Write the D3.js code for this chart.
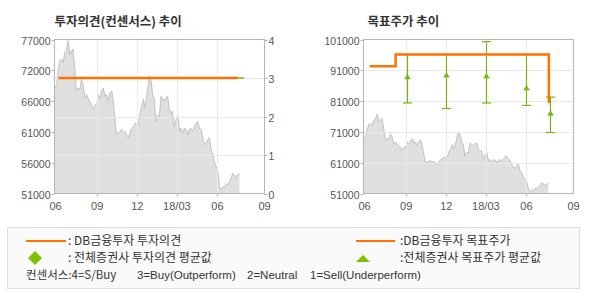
<!DOCTYPE html>
<html>
<head>
<meta charset="utf-8">
<script src="https://cdn.jsdelivr.net/npm/d3@7"></script>
<style>
body { margin: 0; background: #fff; }
text { font-family: "Liberation Sans", Arial, sans-serif; }
.kr { font-family: "Noto Sans CJK KR", "Noto Sans", sans-serif; }
</style>
</head>
<body>
<div id="chart"></div>
<script>
// stock price (same series in both panels)
var priceDates = [
  "2017-05-27","2017-06-01","2017-06-04","2017-06-08","2017-06-12","2017-06-16","2017-06-19","2017-06-23",
  "2017-06-27","2017-07-01","2017-07-05","2017-07-08","2017-07-12","2017-07-16","2017-07-20","2017-07-24",
  "2017-07-27","2017-07-31","2017-08-04","2017-08-08","2017-08-12","2017-08-15","2017-08-19","2017-08-23",
  "2017-08-27","2017-08-31","2017-09-03","2017-09-07","2017-09-11","2017-09-15","2017-09-18","2017-09-22",
  "2017-09-26","2017-09-30","2017-10-04","2017-10-07","2017-10-11","2017-10-15","2017-10-19","2017-10-23",
  "2017-10-26","2017-10-30","2017-11-03","2017-11-07","2017-11-11","2017-11-14","2017-11-18","2017-11-22",
  "2017-11-26","2017-11-30","2017-12-03","2017-12-07","2017-12-11","2017-12-15","2017-12-18","2017-12-22",
  "2017-12-26","2017-12-28","2018-01-01","2018-01-05","2018-01-09","2018-01-12","2018-01-16","2018-01-20",
  "2018-01-24","2018-01-28","2018-01-31","2018-02-04","2018-02-08","2018-02-12","2018-02-16","2018-02-19",
  "2018-02-23","2018-02-27","2018-03-03","2018-03-07","2018-03-10","2018-03-14","2018-03-18","2018-03-22",
  "2018-03-26","2018-03-29","2018-04-02","2018-04-06","2018-04-10","2018-04-14","2018-04-17","2018-04-21",
  "2018-04-25","2018-04-29","2018-05-03","2018-05-06","2018-05-10","2018-05-14","2018-05-18","2018-05-21",
  "2018-05-25","2018-05-29","2018-06-02","2018-06-06","2018-06-09","2018-06-13","2018-06-17","2018-06-21",
  "2018-06-25","2018-06-28","2018-07-02","2018-07-06","2018-07-10","2018-07-14","2018-07-17","2018-07-21"
];
var prices = [
  68800,69400,71700,73400,73700,73100,74800,75100,
  76800,74500,75100,75400,72000,68300,68800,68600,
  70300,69400,67100,67700,66900,66600,66000,65200,
  66000,66000,67700,66900,68300,68800,67400,67700,
  66600,68000,68300,66900,63700,60900,61200,61500,
  61800,61200,61500,60900,60400,61200,62000,62300,
  62900,62600,62500,64300,65700,66900,65400,67100,
  69400,70900,70300,67700,66900,63200,64300,64000,
  67400,66900,66600,67100,67400,65200,64600,64900,
  62300,63500,64300,61500,62000,61200,62000,61800,
  60900,61800,62000,61500,62300,62900,63200,62000,
  61800,60400,59200,59500,60100,60400,58400,57800,
  56400,55500,55000,52100,51600,52100,51900,52700,
  52400,53000,53600,54400,54100,53600,54100,54400
];

// DB금융투자 opinion and the all-broker average (left panel)
var opinionDates = ["2017-06-05", "2018-07-18"];
var opinionValues = [3, 3];
var avgOpinionDates = ["2017-06-05", "2018-08-01"];
var avgOpinionValues = [3, 3];

// DB금융투자 target price (right panel)
var targetDates = ["2017-06-10", "2017-08-08", "2018-07-22"];
var targetValues = [92300, 96100, 80400];

// all-broker target price: high / average / low
var consDates = ["2017-09-03", "2017-12-01", "2018-03-01", "2018-06-01", "2018-07-24"];
var consHigh = [96100, 96100, 100300, 96100, 82300];
var consAvg = [88300, 88900, 88600, 84700, 76500];
var consLow = [80400, 78600, 80400, 79600, 70800];

// axis labels
var xTickDates = ["2017-05-27", "2017-09-01", "2017-12-01", "2018-03-01", "2018-06-01", "2018-09-16"];
var xTickLabels = ["06", "09", "12", "18/03", "06", "09"];
var leftPriceLabels = ["51000", "56000", "61000", "66000", "72000", "77000"];
var opinionTicks = [0, 1, 2, 3, 4];
var rightPriceTicks = [51000, 61000, 71000, 81000, 91000, 101000];

function init() {
    var w = 590, h = 300;
    var top = 39.5, bottom = 193.5, pw = 210;
    var orange = "#ff7200", green = "#78b414";
    var parse = d3.timeParse("%Y-%m-%d");

    var svg = d3.select("#chart").append("svg")
                .attr("width", w)
                .attr("height", h);

    var priceData = priceDates.map(function(d, i) { return {date: parse(d), value: prices[i]}; });

    function panel(x0, yPrice, title) {
        var x = d3.scaleTime()
                  .domain([parse(xTickDates[0]), parse(xTickDates[xTickDates.length - 1])])
                  .range([x0, x0 + pw]);
        var g = svg.append("g");

        g.append("text").attr("class", "kr")
         .attr("x", x0 + (title.length > 8 ? 0 : 4)).attr("y", 26)
         .attr("font-size", 12.5).attr("font-weight", "bold").attr("fill", "#333")
         .text(title);

        // price area
        g.append("path").datum(priceData)
         .attr("fill", "#dfdfdf")
         .attr("d", d3.area().x(function(d) { return x(d.date); }).y0(bottom).y1(function(d) { return yPrice(d.value); }));
        g.append("path").datum(priceData)
         .attr("fill", "none").attr("stroke", "#c2c2c2").attr("stroke-width", 1)
         .attr("d", d3.line().x(function(d) { return x(d.date); }).y(function(d) { return yPrice(d.value); }));

        // vertical grid
        xTickDates.slice(1, -1).forEach(function(d) {
            var px = Math.round(x(parse(d))) + 0.5;
            g.append("line").attr("x1", px).attr("x2", px).attr("y1", top).attr("y2", bottom)
             .attr("stroke", "#e9e9e9");
            g.append("line").attr("x1", px).attr("x2", px).attr("y1", bottom).attr("y2", bottom + 3)
             .attr("stroke", "#b5b5b5");
        });

        xTickDates.forEach(function(d, i) {
            g.append("text").attr("x", x(parse(d)) + (i == 0 ? 1 : 0)).attr("y", 210)
             .attr("text-anchor", "middle").attr("font-size", 11).attr("fill", "#555")
             .text(xTickLabels[i]);
        });

        return {g: g, x: x};
    }

    function hgrid(g, x0, ys) {
        ys.forEach(function(y) {
            var py = Math.round(y) + 0.5;
            g.append("line").attr("x1", x0).attr("x2", x0 + pw).attr("y1", py).attr("y2", py)
             .attr("stroke", "#e9e9e9");
        });
    }

    function frame(g, x0) {
        g.append("rect").attr("x", x0).attr("y", top).attr("width", pw).attr("height", bottom - top)
         .attr("fill", "none").attr("stroke", "#b5b5b5");
    }

    function yLabels(g, px, ys, labels, anchor) {
        ys.forEach(function(y, i) {
            var py = Math.round(y) + 0.5;
            var dx = anchor == "end" ? -3 : 3;
            g.append("line").attr("x1", px).attr("x2", px + dx).attr("y1", py).attr("y2", py)
             .attr("stroke", "#b5b5b5");
            g.append("text").attr("x", px + (anchor == "end" ? -4 : 4)).attr("y", py + 4)
             .attr("text-anchor", anchor).attr("font-size", 10.5).attr("fill", "#555")
             .text(labels[i]);
        });
    }

    // ---- left: 투자의견 ----
    var L = 54.5;
    var yL = d3.scaleLinear().domain([51000, 77000]).range([bottom, top]);
    var yOp = d3.scaleLinear().domain([0, 4]).range([bottom, top]);
    var p1 = panel(L, yL, "투자의견(컨센서스) 추이");
    hgrid(p1.g, L, [1, 2, 3].map(yOp));
    frame(p1.g, L);
    yLabels(p1.g, L, d3.range(6).map(function(i) { return yOp(i * 0.8); }), leftPriceLabels, "end");
    yLabels(p1.g, L + pw, opinionTicks.map(yOp), opinionTicks.map(String), "start");

    var opLine = d3.line().x(function(d) { return p1.x(d[0]); }).y(function(d) { return yOp(d[1]); });
    p1.g.append("path")
        .datum(avgOpinionDates.map(function(d, i) { return [parse(d), avgOpinionValues[i]]; }))
        .attr("fill", "none").attr("stroke", green).attr("stroke-width", 1.5).attr("d", opLine);
    p1.g.append("path")
        .datum(opinionDates.map(function(d, i) { return [parse(d), opinionValues[i]]; }))
        .attr("fill", "none").attr("stroke", orange).attr("stroke-width", 2.5).attr("d", opLine);

    // ---- right: 목표주가 ----
    var R = 363.5;
    var yR = d3.scaleLinear().domain([51000, 101000]).range([bottom, top]);
    var p2 = panel(R, yR, "목표주가 추이");
    hgrid(p2.g, R, rightPriceTicks.slice(1, -1).map(yR));
    frame(p2.g, R);
    yLabels(p2.g, R, rightPriceTicks.map(yR), rightPriceTicks.map(String), "end");

    consDates.forEach(function(d, i) {
        var cx = Math.round(p2.x(parse(d))) + 0.5;
        var bar = p2.g.append("g").attr("stroke", green).attr("stroke-width", 1.2);
        bar.append("line").attr("x1", cx).attr("x2", cx).attr("y1", yR(consHigh[i])).attr("y2", yR(consLow[i]));
        bar.append("line").attr("x1", cx - 4.5).attr("x2", cx + 4.5).attr("y1", yR(consHigh[i])).attr("y2", yR(consHigh[i]));
        bar.append("line").attr("x1", cx - 4.5).attr("x2", cx + 4.5).attr("y1", yR(consLow[i])).attr("y2", yR(consLow[i]));
        bar.append("line").attr("x1", cx - 3).attr("x2", cx + 3).attr("y1", yR(consAvg[i])).attr("y2", yR(consAvg[i]));
        p2.g.append("path")
            .attr("d", d3.symbol().type(d3.symbolTriangle).size(14)())
            .attr("transform", "translate(" + cx + "," + (yR(consAvg[i]) - 1.5) + ")")
            .attr("fill", green);
    });

    p2.g.append("path")
        .datum(targetDates.map(function(d, i) { return [parse(d), targetValues[i]]; }))
        .attr("fill", "none").attr("stroke", orange).attr("stroke-width", 2.5)
        .attr("d", d3.line().curve(d3.curveStepAfter)
                     .x(function(d) { return p2.x(d[0]); })
                     .y(function(d) { return yR(d[1]); }));

    // ---- legend ----
    var lg = svg.append("g");
    lg.append("rect").attr("x", 7.5).attr("y", 227.5).attr("width", 572).attr("height", 61)
      .attr("fill", "#fafafa").attr("stroke", "#dcdcdc");

    lg.append("line").attr("x1", 26).attr("x2", 66).attr("y1", 241).attr("y2", 241)
      .attr("stroke", orange).attr("stroke-width", 2);
    lg.append("path").attr("d", "M35,251L42,258L35,265L28,258Z").attr("fill", "#7cc000");
    lg.append("line").attr("x1", 356).attr("x2", 395).attr("y1", 241).attr("y2", 241)
      .attr("stroke", orange).attr("stroke-width", 2);
    lg.append("path").attr("d", "M356,262L370,262L363,255Z").attr("fill", "#7cc000");

    var legendTexts = [
        [68, 245, ": DB금융투자 투자의견", "kr", 12],
        [68, 262, ": 전체증권사 투자의견 평균값", "kr", 12],
        [400, 245, ":DB금융투자 목표주가", "kr", 12],
        [400, 262, ":전체증권사 목표주가 평균값", "kr", 12],
        [26, 279, "컨센서스:4=S/Buy", "kr", 11.5],
        [137, 279, "3=Buy(Outperform)", "", 11.5],
        [247, 279, "2=Neutral", "", 11.5],
        [310, 279, "1=Sell(Underperform)", "", 11.5]
    ];
    legendTexts.forEach(function(t) {
        lg.append("text").attr("class", t[3]).attr("x", t[0]).attr("y", t[1])
          .attr("font-size", t[4]).attr("fill", "#333").text(t[2]);
    });
}

window.onload = init;
</script>
</body>
</html>
